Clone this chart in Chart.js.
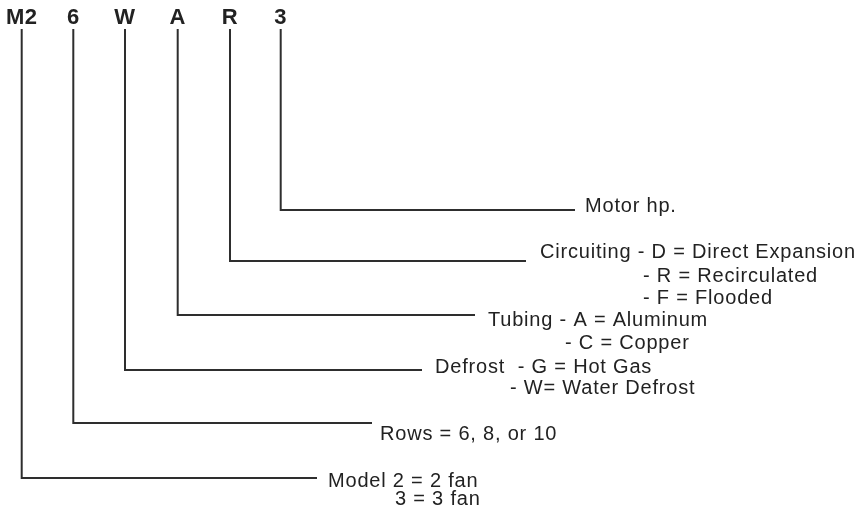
<!DOCTYPE html>
<html>
<head>
<meta charset="utf-8">
<script src="https://cdn.jsdelivr.net/npm/chart.js@4"></script>
<style>
  html, body { margin: 0; padding: 0; background: #ffffff; }
  #wrap { width: 859px; height: 508px; }
</style>
</head>
<body>
<div id="wrap"><canvas id="c" width="859" height="508"></canvas></div>
<script>
// ---- data ----
const codes = ['M2', '6', 'W', 'A', 'R', '3'];
const stemX = [21.7, 73.3, 125, 177.7, 230, 280.7];      // x of each code's leader stem
const elbowY = [478, 423, 370, 315, 261, 210];           // y of each horizontal leader
const leaderEndX = [317, 372, 422, 475, 526, 575];       // where each leader ends
const stemTopY = 29;
const codeY = 24;                                         // baseline of code letters
const descriptions = [
  ['Model 2 = 2 fan', '3 = 3 fan'],
  ['Rows = 6, 8, or 10'],
  ['Defrost  - G = Hot Gas', '- W= Water Defrost'],
  ['Tubing - A = Aluminum', '- C = Copper'],
  ['Circuiting - D = Direct Expansion', '- R = Recirculated', '- F = Flooded'],
  ['Motor hp.']
];

// ---- layout for description text (x start, baseline) ----
const descLayout = [
  [[328, 487], [395, 505]],
  [[380, 440]],
  [[435, 373], [510, 394]],
  [[488, 326], [565, 349]],
  [[540, 258], [643, 282], [643, 304]],
  [[585, 212]]
];

const INK = '#222222';

const datasets = codes.map((code, i) => ({
  label: code,
  data: [
    { x: stemX[i], y: stemTopY },
    { x: stemX[i], y: elbowY[i] },
    { x: leaderEndX[i], y: elbowY[i] }
  ],
  showLine: true,
  borderColor: '#2e2e2e',
  borderWidth: 2,
  pointRadius: 0,
  pointHoverRadius: 0,
  tension: 0,
  borderJoinStyle: 'miter',
  borderCapStyle: 'butt',
  fill: false
}));

const textPlugin = {
  id: 'codeText',
  afterDatasetsDraw(chart) {
    const ctx = chart.ctx;
    const xs = chart.scales.x, ys = chart.scales.y;
    ctx.save();
    ctx.fillStyle = INK;
    // code letters
    ctx.font = 'bold 22px "Liberation Sans", Arial, sans-serif';
    ctx.textAlign = 'center';
    ctx.textBaseline = 'alphabetic';
    if ('letterSpacing' in ctx) ctx.letterSpacing = '0.5px';
    codes.forEach((c, i) => {
      ctx.fillText(c, xs.getPixelForValue(stemX[i]), ys.getPixelForValue(codeY));
    });
    // descriptions
    ctx.font = '20px "Liberation Sans", Arial, sans-serif';
    ctx.textAlign = 'left';
    if ('letterSpacing' in ctx) ctx.letterSpacing = '0.8px';
    descriptions.forEach((lines, i) => {
      lines.forEach((t, j) => {
        const [lx, ly] = descLayout[i][j];
        ctx.fillText(t, xs.getPixelForValue(lx), ys.getPixelForValue(ly));
      });
    });
    ctx.restore();
  }
};

new Chart(document.getElementById('c'), {
  type: 'scatter',
  data: { datasets },
  options: {
    responsive: false,
    animation: false,
    layout: { padding: 0 },
    plugins: { legend: { display: false }, tooltip: { enabled: false } },
    scales: {
      x: { type: 'linear', min: 0, max: 859, display: false },
      y: { type: 'linear', min: 0, max: 508, reverse: true, display: false }
    }
  },
  plugins: [textPlugin]
});
</script>
</body>
</html>
